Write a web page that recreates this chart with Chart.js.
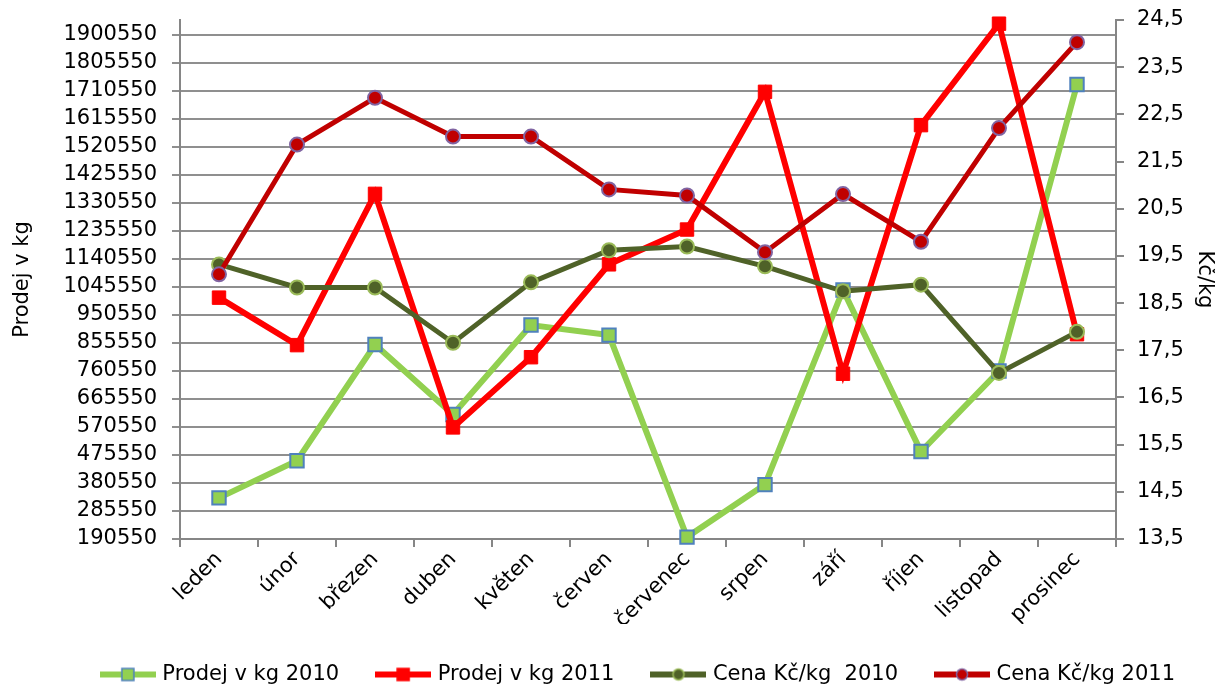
<!DOCTYPE html>
<html>
<head>
<meta charset="utf-8">
<script src="https://cdn.jsdelivr.net/npm/chart.js@4"></script>
<style>
  html, body { margin: 0; padding: 0; background: #fff; }
  #wrap { width: 1215px; height: 686px; }
</style>
</head>
<body>
<div id="wrap"><canvas id="chart" width="1215" height="686"></canvas></div>
<script>
// ===== data =====
const MONTHS = ['leden', 'únor', 'březen', 'duben', 'květen', 'červen',
  'červenec', 'srpen', 'září', 'říjen', 'listopad', 'prosinec'];

const PRODEJ_2010 = [330000, 456000, 850000, 613000, 916000, 882000, 197000, 375000, 1035000, 487000, 760000, 1732000];
const PRODEJ_2011 = [1009000, 848000, 1361000, 569000, 807000, 1122000, 1240000, 1707000, 751000, 1594000, 1938000, 885000];
const CENA_2010 = [19.32, 18.83, 18.83, 17.66, 18.94, 19.62, 19.70, 19.28, 18.75, 18.89, 17.02, 17.89];
const CENA_2011 = [19.11, 21.86, 22.85, 22.03, 22.03, 20.91, 20.78, 19.58, 20.81, 19.80, 22.21, 24.03];

const LEFT_TICKS = [190550, 285550, 380550, 475550, 570550, 665550, 760550, 855550, 950550,
  1045550, 1140550, 1235550, 1330550, 1425550, 1520550, 1615550, 1710550, 1805550, 1900550];
const RIGHT_TICKS = [13.5, 14.5, 15.5, 16.5, 17.5, 18.5, 19.5, 20.5, 21.5, 22.5, 23.5, 24.5];

// ===== theme =====
const FONT = "'DejaVu Sans', Verdana, sans-serif";
Chart.defaults.font.family = FONT;
Chart.defaults.font.size = 21;
Chart.defaults.color = '#000';

const AXIS_GREY = '#868686';
const GRID_GREY = '#8f8f8f';

// small line+marker picture for each legend entry
function legendIcon(ds) {
  const c = document.createElement('canvas');
  c.width = 56; c.height = 18;
  const g = c.getContext('2d');
  g.strokeStyle = ds.borderColor;
  g.lineWidth = 6;
  g.beginPath(); g.moveTo(0, 9); g.lineTo(56, 9); g.stroke();
  g.fillStyle = ds.pointBackgroundColor;
  g.strokeStyle = ds.pointBorderColor;
  g.lineWidth = 1.5;
  if (ds.pointStyle === 'rect') {
    g.fillRect(22, 3, 12, 12);
    g.strokeRect(22, 3, 12, 12);
  } else {
    g.beginPath(); g.arc(28, 9, 5.5, 0, Math.PI * 2); g.fill(); g.stroke();
  }
  return c;
}

// y axes: fixed width, and no extra room above/below for the tick labels
const fixAxis = width => s => {
  s.width = width;
  s.paddingTop = 0;
  s.paddingBottom = 0;
};

const datasets = [
  {
    label: 'Prodej v kg 2010',
    data: PRODEJ_2010,
    yAxisID: 'y',
    borderColor: '#92D050',
    borderWidth: 6,
    pointStyle: 'rect',
    pointRadius: 9.5,
    pointBackgroundColor: '#92D050',
    pointBorderColor: '#4F81BD',
    pointBorderWidth: 2,
    order: 4,
  },
  {
    label: 'Prodej v kg 2011',
    data: PRODEJ_2011,
    yAxisID: 'y',
    borderColor: '#FF0000',
    borderWidth: 6,
    pointStyle: 'rect',
    pointRadius: 9.5,
    pointBackgroundColor: '#FF0000',
    pointBorderColor: '#FF0000',
    pointBorderWidth: 1,
    order: 3,
  },
  {
    label: 'Cena Kč/kg  2010',
    data: CENA_2010,
    yAxisID: 'y1',
    borderColor: '#4F6228',
    borderWidth: 5,
    pointStyle: 'circle',
    pointRadius: 7,
    pointBackgroundColor: '#4F6228',
    pointBorderColor: '#9BBB59',
    pointBorderWidth: 2,
    order: 2,
  },
  {
    label: 'Cena Kč/kg 2011',
    data: CENA_2011,
    yAxisID: 'y1',
    borderColor: '#C00000',
    borderWidth: 5,
    pointStyle: 'circle',
    pointRadius: 7,
    pointBackgroundColor: '#C00000',
    pointBorderColor: '#8064A2',
    pointBorderWidth: 2,
    order: 1,
  },
].map(ds => ({ ...ds, tension: 0, clip: false, pointHoverRadius: ds.pointRadius }));

new Chart(document.getElementById('chart'), {
  type: 'line',
  data: { labels: MONTHS, datasets },
  options: {
    responsive: false,
    animation: false,
    layout: { padding: { top: 20, right: 0, bottom: -9, left: 0 } },
    plugins: {
      tooltip: { enabled: false },
      legend: {
        position: 'bottom',
        align: 'end',
        labels: {
          usePointStyle: true,
          pointStyleWidth: 48,
          padding: 40,
          color: '#000',
          font: { size: 21 },
          generateLabels: chart => chart.data.datasets.map((ds, i) => ({
            text: ds.label,
            pointStyle: legendIcon(ds),
            datasetIndex: i,
            hidden: false,
            lineWidth: 0,
            fontColor: '#000',
          })),
        },
      },
    },
    scales: {
      x: {
        offset: true,
        grid: { offset: true, drawOnChartArea: false, color: AXIS_GREY, lineWidth: 2, tickLength: 8 },
        border: { color: AXIS_GREY, width: 2 },
        ticks: { minRotation: 45, maxRotation: 45, padding: 0, font: { size: 21 } },
        afterFit: s => { s.height = 85; },
      },
      y: {
        position: 'left',
        min: 190550,
        max: 1950550,
        afterBuildTicks: s => { s.ticks = LEFT_TICKS.map(v => ({ value: v })); },
        grid: { color: GRID_GREY, lineWidth: 2, tickLength: 8 },
        border: { color: AXIS_GREY, width: 2 },
        ticks: { padding: 15, font: { size: 21 }, callback: v => String(v) },
        title: { display: true, text: 'Prodej v kg', font: { size: 21, lineHeight: 1 }, padding: { top: 12, bottom: 0 } },
        afterFit: fixAxis(180),
      },
      y1: {
        position: 'right',
        min: 13.5,
        max: 24.5,
        afterBuildTicks: s => { s.ticks = RIGHT_TICKS.map(v => ({ value: v })); },
        grid: { drawOnChartArea: false, color: AXIS_GREY, lineWidth: 2, tickLength: 8 },
        border: { color: AXIS_GREY, width: 2 },
        ticks: { padding: 13, font: { size: 21 }, callback: v => v.toFixed(1).replace('.', ',') },
        title: { display: true, text: 'Kč/kg', font: { size: 21, lineHeight: 1 }, padding: { top: 0, bottom: 0 } },
        afterFit: fixAxis(99),
      },
    },
  },
});
</script>
</body>
</html>
